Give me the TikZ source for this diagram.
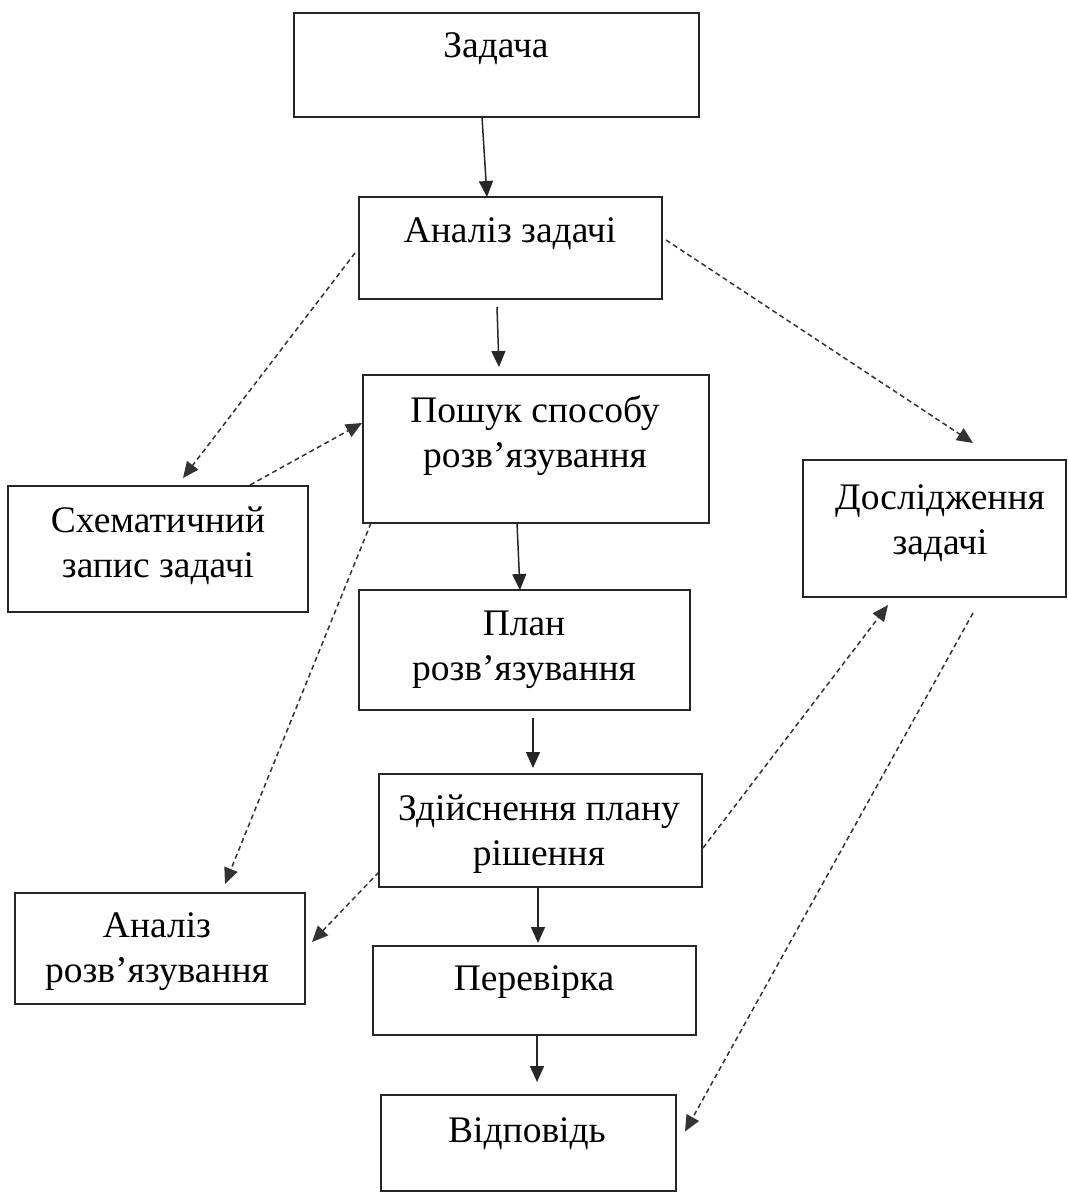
\documentclass[tikz,border=0pt]{standalone}
\usepackage{fontspec}
\setmainfont{Liberation Serif}
\usetikzlibrary{arrows.meta}
\tikzset{
  box/.style={draw=black!85, line width=1.5pt, inner sep=0pt, outer sep=0pt, rectangle},
  txt/.style={anchor=north, align=center, inner sep=0pt, font=\fontsize{37.5}{45}\selectfont},
  solidarr/.style={draw=black!85, line width=1.5pt, -{Triangle[length=16pt,width=14pt]}},
  dasharr/.style={draw=black!80, line width=1.5pt, dash pattern=on 5pt off 3.5pt, -{Triangle[length=16pt,width=14pt]}}
}
\begin{document}
\begin{tikzpicture}[x=1pt,y=-1pt]
\useasboundingbox[fill=white] (0,0) rectangle (1068,1193);
% boxes
\node[box, minimum width=405pt, minimum height=104pt] (b1) at (496.5,65) {};
\node[box, minimum width=303pt, minimum height=102pt] (b2) at (510.5,248) {};
\node[box, minimum width=346pt, minimum height=148pt] (b3) at (536,449) {};
\node[box, minimum width=300pt, minimum height=126pt] (b4) at (158,549) {};
\node[box, minimum width=263pt, minimum height=137pt] (b5) at (934.5,528.5) {};
\node[box, minimum width=331pt, minimum height=120pt] (b6) at (524.5,650) {};
\node[box, minimum width=323pt, minimum height=113pt] (b7) at (540.5,830.5) {};
\node[box, minimum width=290pt, minimum height=111pt] (b8) at (160,948.5) {};
\node[box, minimum width=323pt, minimum height=89pt] (b9) at (534.5,990.5) {};
\node[box, minimum width=295pt, minimum height=96pt] (b10) at (528.5,1143) {};
% texts
\node[txt] (t1) at (496,25.5) {\strut Задача};
\node[txt] (t2) at (510,210.5) {\strut Аналіз задачі};
\node[txt] (t3) at (535,390.5) {\strut Пошук способу\\\strut розв’язування};
\node[txt] (t4) at (158,500.5) {\strut Схематичний\\\strut запис задачі};
\node[txt] (t5) at (940,477.5) {\strut Дослідження\\\strut задачі};
\node[txt] (t6) at (524,603.5) {\strut План\\\strut розв’язування};
\node[txt] (t7) at (539,788.5) {\strut Здійснення плану\\\strut рішення};
\node[txt] (t8) at (157,905.5) {\strut Аналіз\\\strut розв’язування};
\node[txt] (t9) at (534,958.5) {\strut Перевірка};
\node[txt] (t10) at (527,1110.5) {\strut Відповідь};
% solid connectors
\draw[solidarr] ([xshift=-14.5pt]b1.south) -- ([xshift=-23.5pt]b2.north);
\draw[solidarr] ([xshift=-13.5pt,yshift=-8pt]b2.south) -- ([xshift=-37pt,yshift=8pt]b3.north);
\draw[solidarr] ([xshift=-19pt]b3.south) -- ([xshift=-4.5pt]b6.north);
\draw[solidarr] ([xshift=8.5pt,yshift=-8pt]b6.south) -- ([xshift=-7.5pt,yshift=6pt]b7.north);
\draw[solidarr] ([xshift=-2.5pt,yshift=-1pt]b7.south) -- ([xshift=3.5pt,yshift=3pt]b9.north);
\draw[solidarr] ([xshift=2.5pt]b9.south) -- ([xshift=8.5pt,yshift=13pt]b10.north);
% dashed connectors
\draw[dasharr] ([xshift=-4pt,yshift=-5pt]b2.west) -- ([xshift=25pt,yshift=8pt]b4.north);
\draw[dasharr] ([xshift=4pt,yshift=8pt]b2.east) -- ([xshift=38.5pt,yshift=17pt]b5.north);
\draw[dasharr] ([xshift=92pt,yshift=1pt]b4.north) -- ([xshift=-1pt,yshift=26pt]b3.west);
\draw[dasharr] ([xshift=8pt]b3.south west) -- ([xshift=65pt,yshift=9pt]b8.north);
\draw[dasharr] ([xshift=1pt,yshift=-17.5pt]b7.east) -- ([xshift=-46.5pt,yshift=-8pt]b5.south);
\draw[dasharr] ([yshift=-41.5pt]b7.west) -- ([xshift=7pt,yshift=6.5pt]b8.east);
\draw[dasharr] ([xshift=38.5pt,yshift=-16pt]b5.south) -- ([xshift=9pt,yshift=11.5pt]b10.east);
\end{tikzpicture}
\end{document}
